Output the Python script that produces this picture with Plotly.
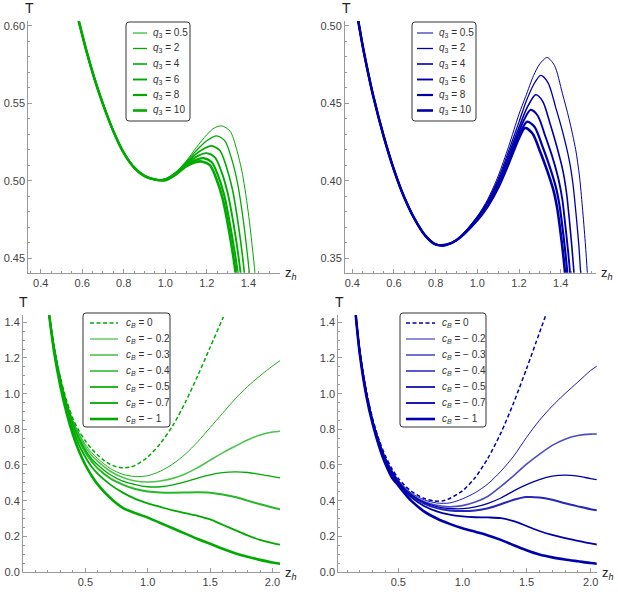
import plotly.graph_objects as go

W, H = 618, 592
GREEN = "rgb(0,170,0)"
BLUE = "rgb(0,0,170)"
FONT = "Liberation Sans, Arial, sans-serif"

# ---------------- data: top row, T(z_h) for several q3 ----------------
q3_labels = ["0.5", "2", "4", "6", "8", "10"]

# top-left (green): common falling branch, then one tail per q3
tl_head_z = [0.58, 0.62, 0.66, 0.70, 0.75, 0.80, 0.85, 0.90, 0.95]
tl_head_T = [0.605, 0.584, 0.5655, 0.5495, 0.532, 0.518, 0.5085, 0.503, 0.5007]
tl_tail_z = [
    [1.00, 1.05, 1.10, 1.15, 1.20, 1.235, 1.272, 1.312, 1.342, 1.372, 1.402, 1.432, 1.45],
    [1.00, 1.05, 1.10, 1.15, 1.20, 1.247, 1.287, 1.317, 1.347, 1.377, 1.405, 1.43],
    [1.00, 1.05, 1.10, 1.15, 1.19, 1.223, 1.263, 1.293, 1.323, 1.353, 1.381, 1.40],
    [1.00, 1.05, 1.10, 1.15, 1.199, 1.239, 1.269, 1.299, 1.329, 1.363, 1.385],
    [1.00, 1.05, 1.10, 1.145, 1.183, 1.223, 1.253, 1.283, 1.313, 1.349, 1.37],
    [1.00, 1.05, 1.10, 1.14, 1.175, 1.215, 1.245, 1.275, 1.305, 1.339, 1.36],
]
tl_tail_T = [
    [0.5013, 0.5055, 0.5125, 0.5215, 0.5297, 0.5340, 0.5354, 0.532, 0.521, 0.504, 0.477, 0.44, 0.41],
    [0.5011, 0.5052, 0.512, 0.5195, 0.5258, 0.529, 0.5257, 0.5152, 0.499, 0.473, 0.44, 0.40],
    [0.5009, 0.5048, 0.5112, 0.5175, 0.521, 0.5225, 0.5195, 0.5095, 0.4945, 0.4705, 0.44, 0.408],
    [0.5007, 0.5045, 0.5105, 0.5155, 0.5178, 0.515, 0.5063, 0.4928, 0.4718, 0.44, 0.41],
    [0.5005, 0.5042, 0.5098, 0.5133, 0.5146, 0.512, 0.5037, 0.491, 0.4706, 0.44, 0.41],
    [0.5003, 0.5039, 0.5092, 0.5118, 0.5124, 0.510, 0.5016, 0.489, 0.469, 0.44, 0.41],
]

# top-right (blue)
tr_head_z = [0.42, 0.45, 0.47, 0.50, 0.55, 0.60, 0.65, 0.70, 0.75, 0.80, 0.85, 0.90]
tr_head_T = [0.510, 0.487, 0.4735, 0.455, 0.429, 0.407, 0.389, 0.375, 0.3645, 0.3588, 0.3585, 0.3615]
tr_tail_z = [
    [1.00, 1.05, 1.10, 1.15, 1.20, 1.232, 1.27, 1.30, 1.335, 1.37, 1.408, 1.44, 1.472, 1.49, 1.504, 1.518, 1.528, 1.545],
    [1.00, 1.05, 1.10, 1.15, 1.20, 1.235, 1.27, 1.304, 1.339, 1.377, 1.409, 1.441, 1.459, 1.473, 1.487, 1.496, 1.512],
    [1.00, 1.05, 1.10, 1.15, 1.20, 1.24, 1.28, 1.313, 1.35, 1.38, 1.411, 1.428, 1.441, 1.454, 1.464, 1.48],
    [1.00, 1.05, 1.10, 1.15, 1.19, 1.225, 1.256, 1.29, 1.327, 1.359, 1.39, 1.408, 1.421, 1.435, 1.445, 1.46],
    [1.00, 1.05, 1.10, 1.15, 1.18, 1.21, 1.24, 1.275, 1.313, 1.344, 1.376, 1.394, 1.408, 1.422, 1.432, 1.447],
    [1.00, 1.05, 1.10, 1.15, 1.175, 1.20, 1.229, 1.264, 1.302, 1.333, 1.365, 1.383, 1.397, 1.411, 1.421, 1.436],
]
tr_tail_T = [
    [0.377, 0.388, 0.403, 0.422, 0.443, 0.4544, 0.468, 0.4755, 0.4796, 0.4745, 0.4565, 0.440, 0.420, 0.403, 0.383, 0.36, 0.34, 0.30],
    [0.3765, 0.387, 0.401, 0.419, 0.438, 0.4515, 0.462, 0.468, 0.4634, 0.4469, 0.4317, 0.4133, 0.3978, 0.3794, 0.3583, 0.34, 0.31],
    [0.376, 0.386, 0.3995, 0.4165, 0.4345, 0.4475, 0.4555, 0.4514, 0.4365, 0.4227, 0.4062, 0.3921, 0.3756, 0.3566, 0.34, 0.31],
    [0.3755, 0.385, 0.398, 0.414, 0.4285, 0.4395, 0.4458, 0.442, 0.4284, 0.4158, 0.4006, 0.3877, 0.3726, 0.3551, 0.34, 0.31],
    [0.375, 0.384, 0.3965, 0.4125, 0.4235, 0.4325, 0.4382, 0.4347, 0.422, 0.4104, 0.3963, 0.3843, 0.3703, 0.3541, 0.34, 0.31],
    [0.3745, 0.3835, 0.3955, 0.411, 0.4195, 0.4275, 0.434, 0.4306, 0.4185, 0.4073, 0.3939, 0.3824, 0.369, 0.3535, 0.34, 0.31],
]

# ---------------- data: bottom row, T(z_h) for several c_B ----------------
cb_labels = ["0", "\u2212 0.2", "\u2212 0.3", "\u2212 0.4", "\u2212 0.5", "\u2212 0.7", "\u2212 1"]

bl_z = [
    [0.21, 0.25, 0.30, 0.35, 0.40, 0.45, 0.50, 0.55, 0.60, 0.65, 0.70, 0.75, 0.80, 0.85, 0.90,
     1.00, 1.10, 1.20, 1.30, 1.40, 1.50, 1.60, 1.65],
] + [[0.21, 0.25, 0.30, 0.35, 0.40, 0.45, 0.50, 0.55, 0.60, 0.70, 0.80, 0.90, 1.00, 1.10, 1.20,
      1.30, 1.40, 1.50, 1.60, 1.70, 1.80, 1.90, 2.00, 2.07]] * 6
bl_T = [
    [1.44, 1.26, 1.09, 0.96, 0.86, 0.79, 0.735, 0.69, 0.655, 0.625, 0.603, 0.59, 0.584, 0.587, 0.598,
     0.645, 0.72, 0.82, 0.95, 1.10, 1.26, 1.42, 1.50],
    [1.44, 1.26, 1.085, 0.95, 0.85, 0.775, 0.715, 0.67, 0.635, 0.58, 0.548, 0.535, 0.54, 0.565, 0.605,
     0.66, 0.73, 0.81, 0.89, 0.97, 1.04, 1.10, 1.155, 1.19],
    [1.44, 1.26, 1.08, 0.945, 0.84, 0.765, 0.70, 0.655, 0.62, 0.565, 0.53, 0.51, 0.505, 0.51, 0.525,
     0.55, 0.585, 0.627, 0.668, 0.705, 0.74, 0.768, 0.785, 0.79],
    [1.44, 1.255, 1.075, 0.94, 0.83, 0.75, 0.685, 0.635, 0.60, 0.545, 0.51, 0.49, 0.478, 0.478, 0.488,
     0.505, 0.527, 0.545, 0.557, 0.561, 0.558, 0.548, 0.535, 0.527],
    [1.44, 1.25, 1.07, 0.93, 0.82, 0.735, 0.67, 0.62, 0.58, 0.525, 0.49, 0.465, 0.452, 0.446, 0.445,
     0.446, 0.447, 0.445, 0.435, 0.42, 0.40, 0.38, 0.362, 0.35],
    [1.44, 1.24, 1.06, 0.91, 0.80, 0.71, 0.645, 0.59, 0.55, 0.49, 0.445, 0.41, 0.385, 0.365, 0.345,
     0.33, 0.315, 0.295, 0.265, 0.235, 0.205, 0.18, 0.162, 0.152],
    [1.44, 1.23, 1.04, 0.89, 0.77, 0.675, 0.60, 0.54, 0.49, 0.415, 0.36, 0.33, 0.305, 0.275, 0.245,
     0.215, 0.185, 0.158, 0.13, 0.105, 0.085, 0.068, 0.053, 0.045],
]

br_z = [
    [0.168, 0.20, 0.25, 0.30, 0.35, 0.40, 0.45, 0.50, 0.55, 0.60, 0.70, 0.78, 0.85, 0.90,
     1.00, 1.10, 1.20, 1.30, 1.40, 1.50, 1.60, 1.66],
] + [[0.168, 0.20, 0.25, 0.30, 0.35, 0.40, 0.45, 0.50, 0.55, 0.60, 0.70, 0.80, 0.90, 1.00,
      1.10, 1.20, 1.30, 1.40, 1.50, 1.60, 1.70, 1.80, 1.90, 2.00, 2.06]] * 6
br_T = [
    [1.44, 1.24, 1.02, 0.86, 0.74, 0.65, 0.58, 0.525, 0.485, 0.453, 0.413, 0.398, 0.40, 0.412,
     0.455, 0.53, 0.64, 0.78, 0.95, 1.14, 1.34, 1.46],
    [1.44, 1.24, 1.015, 0.855, 0.735, 0.64, 0.57, 0.515, 0.475, 0.443, 0.405, 0.387, 0.387, 0.41,
     0.445, 0.495, 0.565, 0.65, 0.755, 0.85, 0.93, 1.00, 1.065, 1.13, 1.16],
    [1.44, 1.235, 1.01, 0.85, 0.73, 0.635, 0.565, 0.51, 0.468, 0.435, 0.395, 0.374, 0.366, 0.372,
     0.392, 0.425, 0.48, 0.54, 0.605, 0.66, 0.71, 0.745, 0.765, 0.773, 0.773],
    [1.44, 1.23, 1.005, 0.845, 0.725, 0.63, 0.56, 0.505, 0.465, 0.433, 0.39, 0.367, 0.356, 0.355,
     0.365, 0.385, 0.415, 0.455, 0.49, 0.518, 0.537, 0.543, 0.537, 0.524, 0.517],
    [1.44, 1.23, 1.0, 0.84, 0.72, 0.625, 0.555, 0.50, 0.46, 0.428, 0.383, 0.358, 0.345, 0.342,
     0.345, 0.357, 0.38, 0.405, 0.42, 0.418, 0.405, 0.385, 0.368, 0.352, 0.345],
    [1.44, 1.225, 0.995, 0.835, 0.715, 0.62, 0.548, 0.495, 0.455, 0.42, 0.37, 0.34, 0.322, 0.312,
     0.307, 0.306, 0.302, 0.285, 0.258, 0.23, 0.208, 0.19, 0.175, 0.16, 0.153],
    [1.44, 1.22, 0.99, 0.83, 0.705, 0.605, 0.53, 0.485, 0.44, 0.40, 0.34, 0.30, 0.27, 0.245,
     0.225, 0.205, 0.18, 0.15, 0.122, 0.098, 0.082, 0.07, 0.06, 0.05, 0.046],
]

# ---------------- styles ----------------
q3_widths = [1.0, 1.3, 1.6, 1.9, 2.2, 2.6]
cb_widths = [1.5, 0.9, 1.6, 1.3, 2.0, 1.8, 2.6]
cb_alpha = [1.0, 1.0, 0.7, 1.0, 0.85, 1.0, 1.0]
cb_dash = ["4px,2.5px", "solid", "solid", "solid", "solid", "solid", "solid"]


def rgba(rgb, a):
    return rgb.replace("rgb(", "rgba(").replace(")", f",{a})")


def px_x(p):
    return p / W


def px_y(p):
    return 1 - p / H


fig = go.Figure()

# top row traces
for i, lab in enumerate(q3_labels):
    fig.add_trace(go.Scatter(
        x=tl_head_z + tl_tail_z[i], y=tl_head_T + tl_tail_T[i], mode="lines",
        name=f"q3 = {lab}", xaxis="x", yaxis="y",
        line=dict(color=GREEN, width=q3_widths[i], shape="spline", smoothing=0.8)))
    fig.add_trace(go.Scatter(
        x=tr_head_z + tr_tail_z[i], y=tr_head_T + tr_tail_T[i], mode="lines",
        name=f"q3 = {lab}", xaxis="x2", yaxis="y2",
        line=dict(color=BLUE, width=q3_widths[i], shape="spline", smoothing=0.8)))

# bottom row traces
for i, lab in enumerate(cb_labels):
    fig.add_trace(go.Scatter(
        x=bl_z[i], y=bl_T[i], mode="lines", name=f"cB = {lab}", xaxis="x3", yaxis="y3",
        line=dict(color=rgba(GREEN, cb_alpha[i]), width=cb_widths[i], dash=cb_dash[i],
                  shape="spline", smoothing=0.8)))
    fig.add_trace(go.Scatter(
        x=br_z[i], y=br_T[i], mode="lines", name=f"cB = {lab}", xaxis="x4", yaxis="y4",
        line=dict(color=rgba(BLUE, cb_alpha[i]), width=cb_widths[i], dash=cb_dash[i],
                  shape="spline", smoothing=0.8)))

# ---------------- axes ----------------
AX = dict(showgrid=False, zeroline=False, showline=True, linecolor="#9a9a9a", linewidth=1,
          ticks="inside", ticklen=4, tickcolor="#9a9a9a", tickwidth=1, automargin=False,
          tickfont=dict(family=FONT, size=11, color="#444444"))

panels = [
    # suffix, x px span, y px span, x range, y range, x ticks, y ticks
    ("", (28.3, 280), (21, 272.7), [0.3404, 1.5524], [0.4405, 0.6032],
     dict(tick0=0.4, dtick=0.2, tickformat=".1f", minor_dtick=0.05),
     dict(tick0=0.45, dtick=0.05, tickformat=".2f", minor_dtick=0.01)),
    ("2", (345, 595.7), (21, 272.7), [0.365, 1.568], [0.3405, 0.5032],
     dict(tick0=0.4, dtick=0.2, tickformat=".1f", minor_dtick=0.05),
     dict(tick0=0.35, dtick=0.05, tickformat=".2f", minor_dtick=0.01)),
    ("3", (23, 280), (315, 572), [0, 2.06], [0, 1.441],
     dict(tickvals=[0.5, 1.0, 1.5, 2.0], tickformat=".1f", minor_dtick=0.1),
     dict(tick0=0, dtick=0.2, tickformat=".1f", minor_dtick=0.05)),
    ("4", (338.3, 596.7), (315, 572), [0.032, 2.047], [0, 1.441],
     dict(tickvals=[0.5, 1.0, 1.5, 2.0], tickformat=".1f", minor_dtick=0.1),
     dict(tick0=0, dtick=0.2, tickformat=".1f", minor_dtick=0.05)),
]

layout = dict(width=W, height=H, margin=dict(l=0, r=0, t=0, b=0, autoexpand=False),
              paper_bgcolor="white", plot_bgcolor="white", showlegend=False)
annotations = []
for suf, xs, ys, xr, yr, xt, yt in panels:
    xt = dict(xt)
    yt = dict(yt)
    xm = xt.pop("minor_dtick")
    ym = yt.pop("minor_dtick")
    layout["xaxis" + suf] = dict(AX, domain=[px_x(xs[0]), px_x(xs[1])], range=xr,
                                 anchor="y" + suf, **xt,
                                 minor=dict(dtick=xm, ticks="inside", ticklen=2,
                                            tickcolor="#9a9a9a"))
    layout["yaxis" + suf] = dict(AX, domain=[px_y(ys[1]), px_y(ys[0])], range=yr,
                                 anchor="x" + suf, **yt,
                                 minor=dict(dtick=ym, ticks="inside", ticklen=2,
                                            tickcolor="#9a9a9a"))
    # axis labels, Mathematica style
    annotations.append(dict(text="T", xref="paper", yref="paper",
                            x=px_x(xs[0] + 1), y=px_y(ys[0] - 13), showarrow=False,
                            xanchor="center", yanchor="middle",
                            font=dict(family=FONT, size=14, color="#222222")))
    annotations.append(dict(text="z<sub><i>h</i></sub>", xref="paper", yref="paper",
                            x=px_x(xs[1] + 3), y=px_y(ys[1] + 1), xanchor="left",
                            yanchor="middle", showarrow=False,
                            font=dict(family=FONT, size=13, color="#222222")))

# ---------------- legends (Mathematica-style boxes) ----------------
shapes = []


def add_legend(box, labels, color, widths, alphas, dashes, sample, text_x, y0, step, prefix):
    x0, y_top, x1, y_bot = box
    r = 3
    path = (f"M {px_x(x0 + r)},{px_y(y_top)} L {px_x(x1 - r)},{px_y(y_top)} "
            f"Q {px_x(x1)},{px_y(y_top)} {px_x(x1)},{px_y(y_top + r)} "
            f"L {px_x(x1)},{px_y(y_bot - r)} Q {px_x(x1)},{px_y(y_bot)} {px_x(x1 - r)},{px_y(y_bot)} "
            f"L {px_x(x0 + r)},{px_y(y_bot)} Q {px_x(x0)},{px_y(y_bot)} {px_x(x0)},{px_y(y_bot - r)} "
            f"L {px_x(x0)},{px_y(y_top + r)} Q {px_x(x0)},{px_y(y_top)} {px_x(x0 + r)},{px_y(y_top)} Z")
    shapes.append(dict(type="path", path=path, xref="paper", yref="paper",
                       line=dict(color="#333333", width=1), fillcolor="white", layer="above"))
    for k, lab in enumerate(labels):
        yy = y0 + k * step
        shapes.append(dict(type="line", xref="paper", yref="paper",
                           x0=px_x(sample[0]), x1=px_x(sample[1]), y0=px_y(yy), y1=px_y(yy),
                           line=dict(color=rgba(color, alphas[k]), width=widths[k],
                                     dash=dashes[k]), layer="above"))
        annotations.append(dict(text=prefix + lab, xref="paper", yref="paper",
                                x=px_x(text_x), y=px_y(yy), xanchor="left", yanchor="middle",
                                showarrow=False,
                                font=dict(family=FONT, size=10, color="#333333")))


q_prefix = "<i>q</i><sub>3</sub> = "
c_prefix = "<i>c<sub>B</sub></i> = "
ones6 = [1.0] * 6
solid6 = ["solid"] * 6
add_legend((126, 22, 190, 121), q3_labels, GREEN, q3_widths, ones6, solid6,
           (133, 147), 151, 33, 15.5, q_prefix)
add_legend((412, 22, 476, 121), q3_labels, BLUE, q3_widths, ones6, solid6,
           (417, 433), 437, 33, 15.5, q_prefix)
add_legend((83, 313, 170, 427), cb_labels, GREEN, cb_widths, cb_alpha, cb_dash,
           (90, 118), 124, 323, 16, c_prefix)
add_legend((400, 313, 486, 427), cb_labels, BLUE, cb_widths, cb_alpha, cb_dash,
           (406, 435), 440, 323, 16, c_prefix)

layout["shapes"] = shapes
layout["annotations"] = annotations
fig.update_layout(**layout)

# the page body has a default 8px margin; drop it so the figure sits at the window corner
fig.write_html("out.html", config={"displayModeBar": False},
               post_script="document.body.style.margin='0px';")
